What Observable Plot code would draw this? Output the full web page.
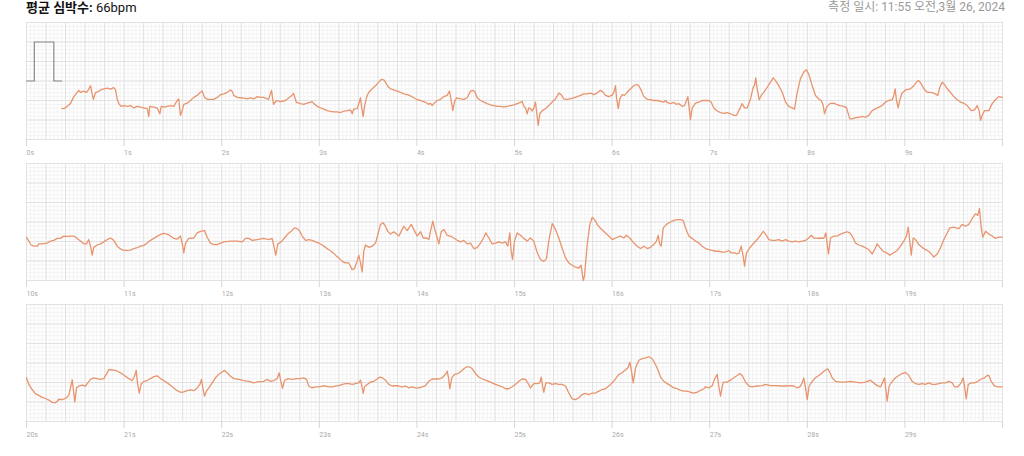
<!DOCTYPE html>
<html><head><meta charset="utf-8">
<script src="https://cdn.jsdelivr.net/npm/d3@7"></script>
<script src="https://cdn.jsdelivr.net/npm/@observablehq/plot@0.6"></script>
<style>
body{margin:0;background:#fff;font-family:Roboto,"Noto Sans CJK KR",sans-serif;}
#header{position:relative;height:21px;width:1024px;}
#title{position:absolute;left:26px;top:0px;font-size:13px;color:#111;line-height:16px;font-family:Roboto,"Noto Sans CJK KR",sans-serif}
#title b{font-weight:700}
#date{position:absolute;right:19px;top:0;font-size:12px;color:#9a9a9a;line-height:15px}
svg{display:block}
</style></head><body>
<div id="header"><div id="title"><b>평균 심박수:</b> 66bpm</div><div id="date">측정 일시: 11:55 오전,3월 26, 2024</div></div>
<div id="chart"></div>
<script>
// panel start times (s)
const panelStart = [0, 10, 20];
// calibration pulse (s, mV)
const calTime = [0, 0.08, 0.08, 0.28, 0.28, 0.36];
const calVolt = [0, 0, 1, 1, 0, 0];
// ECG samples [time s, mV]
const ecg1 = [[0.362,-0.70],[0.382,-0.71],[0.417,-0.65],[0.451,-0.58],[0.478,-0.43],[0.512,-0.31],[0.536,-0.24],[0.553,-0.29],[0.587,-0.26],[0.615,-0.29],[0.635,-0.22],[0.656,-0.12],[0.671,-0.32],[0.686,-0.47],[0.707,-0.29],[0.724,-0.29],[0.758,-0.23],[0.792,-0.20],[0.827,-0.18],[0.861,-0.21],[0.894,-0.17],[0.912,-0.23],[0.929,-0.46],[0.946,-0.58],[0.970,-0.65],[0.997,-0.63],[1.032,-0.65],[1.066,-0.63],[1.099,-0.69],[1.134,-0.65],[1.168,-0.67],[1.202,-0.69],[1.237,-0.71],[1.253,-0.91],[1.263,-0.65],[1.304,-0.67],[1.339,-0.69],[1.366,-0.84],[1.380,-0.65],[1.407,-0.67],[1.442,-0.65],[1.475,-0.63],[1.509,-0.65],[1.544,-0.50],[1.560,-0.46],[1.578,-0.88],[1.595,-0.76],[1.612,-0.60],[1.646,-0.57],[1.680,-0.50],[1.714,-0.42],[1.749,-0.37],[1.783,-0.29],[1.800,-0.26],[1.824,-0.42],[1.851,-0.47],[1.919,-0.47],[1.954,-0.42],[1.988,-0.35],[2.022,-0.33],[2.056,-0.29],[2.090,-0.23],[2.107,-0.26],[2.124,-0.37],[2.159,-0.42],[2.193,-0.43],[2.226,-0.44],[2.261,-0.46],[2.295,-0.43],[2.329,-0.46],[2.364,-0.40],[2.398,-0.42],[2.428,-0.42],[2.480,-0.47],[2.510,-0.24],[2.531,-0.60],[2.561,-0.50],[2.602,-0.53],[2.654,-0.50],[2.705,-0.40],[2.736,-0.32],[2.766,-0.55],[2.807,-0.58],[2.841,-0.60],[2.876,-0.57],[2.910,-0.54],[2.927,-0.53],[2.944,-0.58],[2.979,-0.65],[3.012,-0.69],[3.046,-0.72],[3.081,-0.76],[3.115,-0.78],[3.149,-0.79],[3.183,-0.79],[3.217,-0.81],[3.251,-0.77],[3.286,-0.76],[3.320,-0.74],[3.337,-0.84],[3.353,-0.72],[3.388,-0.71],[3.405,-0.58],[3.422,-0.43],[3.435,-0.69],[3.450,-0.91],[3.463,-0.65],[3.484,-0.42],[3.507,-0.29],[3.542,-0.20],[3.576,-0.12],[3.610,-0.03],[3.634,0.04],[3.661,0.03],[3.678,-0.03],[3.702,-0.14],[3.730,-0.20],[3.763,-0.23],[3.798,-0.26],[3.832,-0.29],[3.866,-0.33],[3.901,-0.35],[3.934,-0.38],[3.968,-0.43],[4.003,-0.48],[4.037,-0.50],[4.071,-0.53],[4.105,-0.57],[4.122,-0.60],[4.139,-0.57],[4.157,-0.63],[4.173,-0.58],[4.208,-0.50],[4.242,-0.47],[4.276,-0.40],[4.310,-0.37],[4.334,-0.26],[4.351,-0.50],[4.368,-0.76],[4.385,-0.54],[4.406,-0.43],[4.447,-0.46],[4.481,-0.47],[4.515,-0.43],[4.549,-0.26],[4.577,-0.24],[4.597,-0.29],[4.618,-0.43],[4.652,-0.50],[4.686,-0.54],[4.720,-0.58],[4.754,-0.61],[4.788,-0.63],[4.823,-0.65],[4.857,-0.65],[4.890,-0.67],[4.925,-0.65],[4.959,-0.63],[4.993,-0.61],[5.028,-0.58],[5.061,-0.55],[5.079,-0.52],[5.095,-0.65],[5.113,-0.69],[5.130,-0.84],[5.146,-0.69],[5.164,-0.71],[5.181,-0.77],[5.198,-0.69],[5.215,-0.54],[5.233,-0.93],[5.243,-1.14],[5.259,-0.84],[5.284,-0.76],[5.318,-0.71],[5.352,-0.63],[5.386,-0.54],[5.420,-0.46],[5.454,-0.31],[5.478,-0.35],[5.505,-0.46],[5.540,-0.47],[5.574,-0.45],[5.608,-0.43],[5.642,-0.40],[5.676,-0.37],[5.710,-0.33],[5.745,-0.33],[5.779,-0.31],[5.813,-0.35],[5.847,-0.31],[5.881,-0.24],[5.909,-0.29],[5.932,-0.37],[5.966,-0.40],[6.001,-0.36],[6.018,-0.29],[6.035,-0.12],[6.045,-0.42],[6.063,-0.71],[6.079,-0.46],[6.104,-0.35],[6.127,-0.37],[6.155,-0.29],[6.189,-0.20],[6.222,-0.12],[6.257,-0.09],[6.274,-0.12],[6.298,-0.24],[6.325,-0.40],[6.360,-0.47],[6.393,-0.48],[6.427,-0.50],[6.462,-0.50],[6.496,-0.52],[6.530,-0.54],[6.547,-0.50],[6.565,-0.55],[6.598,-0.58],[6.632,-0.55],[6.660,-0.60],[6.683,-0.58],[6.718,-0.65],[6.742,-0.63],[6.762,-0.50],[6.776,-0.40],[6.790,-0.71],[6.803,-0.99],[6.821,-0.69],[6.855,-0.57],[6.889,-0.54],[6.923,-0.50],[6.957,-0.50],[6.991,-0.50],[7.015,-0.54],[7.042,-0.69],[7.077,-0.77],[7.111,-0.81],[7.145,-0.83],[7.179,-0.81],[7.213,-0.84],[7.247,-0.88],[7.275,-0.88],[7.298,-0.76],[7.333,-0.58],[7.357,-0.69],[7.384,-0.69],[7.418,-0.46],[7.446,-0.16],[7.459,-0.12],[7.472,0.08],[7.487,-0.20],[7.507,-0.48],[7.528,-0.37],[7.554,-0.29],[7.589,-0.16],[7.623,-0.03],[7.651,0.08],[7.674,0.01],[7.708,-0.12],[7.743,-0.29],[7.777,-0.54],[7.810,-0.65],[7.845,-0.69],[7.869,-0.72],[7.897,-0.29],[7.930,0.06],[7.964,0.23],[7.992,0.29],[8.015,0.17],[8.050,-0.12],[8.084,-0.37],[8.118,-0.46],[8.142,-0.50],[8.163,-0.63],[8.176,-0.84],[8.197,-0.67],[8.231,-0.58],[8.266,-0.57],[8.299,-0.60],[8.333,-0.63],[8.374,-0.65],[8.402,-0.69],[8.436,-0.97],[8.460,-0.97],[8.494,-0.94],[8.528,-0.93],[8.563,-0.91],[8.596,-0.93],[8.630,-0.88],[8.665,-0.76],[8.716,-0.69],[8.767,-0.63],[8.801,-0.54],[8.835,-0.50],[8.870,-0.48],[8.886,-0.37],[8.900,-0.20],[8.914,-0.50],[8.931,-0.69],[8.948,-0.48],[8.972,-0.31],[9.006,-0.23],[9.057,-0.20],[9.091,-0.12],[9.126,-0.01],[9.142,0.01],[9.167,-0.07],[9.194,-0.20],[9.228,-0.29],[9.262,-0.29],[9.296,-0.31],[9.337,-0.37],[9.358,-0.16],[9.382,-0.03],[9.406,-0.09],[9.433,-0.20],[9.467,-0.29],[9.501,-0.40],[9.536,-0.48],[9.570,-0.54],[9.604,-0.57],[9.638,-0.63],[9.679,-0.76],[9.713,-0.74],[9.741,-0.63],[9.761,-0.76],[9.775,-1.01],[9.792,-0.88],[9.816,-0.76],[9.860,-0.76],[9.894,-0.58],[9.928,-0.48],[9.962,-0.40],[9.997,-0.42]];
const ecg2 = [[10.000,-0.39],[10.024,-0.49],[10.048,-0.59],[10.075,-0.62],[10.110,-0.62],[10.126,-0.56],[10.161,-0.56],[10.212,-0.54],[10.246,-0.49],[10.280,-0.47],[10.315,-0.42],[10.348,-0.42],[10.382,-0.36],[10.417,-0.37],[10.451,-0.36],[10.485,-0.36],[10.519,-0.42],[10.553,-0.49],[10.587,-0.56],[10.615,-0.56],[10.638,-0.45],[10.656,-0.62],[10.673,-0.85],[10.690,-0.65],[10.724,-0.59],[10.758,-0.56],[10.792,-0.51],[10.827,-0.45],[10.861,-0.41],[10.894,-0.47],[10.929,-0.62],[10.963,-0.69],[10.997,-0.73],[11.032,-0.73],[11.066,-0.72],[11.099,-0.68],[11.134,-0.66],[11.168,-0.62],[11.202,-0.60],[11.237,-0.54],[11.270,-0.47],[11.304,-0.42],[11.339,-0.37],[11.373,-0.32],[11.407,-0.29],[11.442,-0.31],[11.475,-0.36],[11.509,-0.42],[11.544,-0.44],[11.578,-0.36],[11.595,-0.54],[11.612,-0.79],[11.629,-0.54],[11.663,-0.42],[11.714,-0.41],[11.749,-0.28],[11.783,-0.24],[11.824,-0.22],[11.851,-0.39],[11.885,-0.54],[11.919,-0.58],[11.954,-0.58],[11.988,-0.54],[12.022,-0.51],[12.090,-0.49],[12.159,-0.49],[12.210,-0.51],[12.244,-0.42],[12.278,-0.42],[12.313,-0.47],[12.364,-0.45],[12.431,-0.42],[12.483,-0.45],[12.517,-0.42],[12.534,-0.62],[12.554,-0.85],[12.575,-0.56],[12.610,-0.51],[12.643,-0.41],[12.677,-0.31],[12.712,-0.24],[12.746,-0.15],[12.774,-0.17],[12.800,-0.24],[12.825,-0.36],[12.859,-0.47],[12.892,-0.45],[12.927,-0.47],[12.961,-0.51],[12.995,-0.54],[13.030,-0.59],[13.063,-0.65],[13.097,-0.71],[13.132,-0.77],[13.166,-0.85],[13.200,-0.92],[13.235,-1.01],[13.268,-1.05],[13.302,-1.05],[13.337,-1.22],[13.361,-1.19],[13.381,-1.05],[13.405,-0.85],[13.422,-1.05],[13.439,-1.28],[13.456,-0.75],[13.473,-0.59],[13.507,-0.65],[13.542,-0.62],[13.576,-0.54],[13.600,-0.32],[13.627,-0.06],[13.655,-0.02],[13.678,-0.11],[13.702,-0.24],[13.730,-0.31],[13.763,-0.25],[13.791,-0.31],[13.815,-0.36],[13.839,-0.24],[13.866,-0.11],[13.901,-0.22],[13.942,-0.06],[13.968,-0.19],[14.003,-0.36],[14.037,-0.25],[14.065,-0.41],[14.098,-0.41],[14.122,-0.45],[14.139,-0.24],[14.163,0.02],[14.183,-0.19],[14.208,-0.41],[14.225,-0.56],[14.249,-0.25],[14.276,-0.19],[14.310,-0.34],[14.344,-0.36],[14.378,-0.41],[14.413,-0.47],[14.447,-0.51],[14.481,-0.47],[14.515,-0.56],[14.549,-0.54],[14.583,-0.68],[14.618,-0.66],[14.652,-0.54],[14.686,-0.39],[14.706,-0.28],[14.737,-0.41],[14.771,-0.56],[14.805,-0.54],[14.839,-0.51],[14.874,-0.54],[14.908,-0.51],[14.931,-0.62],[14.952,-0.28],[14.966,-0.75],[14.980,-0.96],[15.000,-0.49],[15.028,-0.28],[15.061,-0.34],[15.095,-0.42],[15.130,-0.49],[15.164,-0.41],[15.198,-0.49],[15.233,-0.79],[15.266,-0.96],[15.300,-1.01],[15.328,-0.94],[15.351,-0.49],[15.386,-0.04],[15.420,-0.19],[15.454,-0.41],[15.489,-0.68],[15.523,-0.92],[15.556,-1.05],[15.591,-1.11],[15.625,-1.16],[15.659,-1.18],[15.683,-1.11],[15.704,-1.50],[15.717,-1.39],[15.745,-0.58],[15.772,-0.06],[15.796,0.12],[15.820,0.06],[15.847,-0.06],[15.881,-0.16],[15.932,-0.28],[15.966,-0.36],[16.001,-0.45],[16.035,-0.41],[16.086,-0.36],[16.120,-0.41],[16.148,-0.34],[16.181,-0.41],[16.222,-0.54],[16.257,-0.62],[16.291,-0.68],[16.325,-0.62],[16.360,-0.68],[16.393,-0.65],[16.427,-0.58],[16.455,-0.49],[16.472,-0.34],[16.489,-0.58],[16.503,-0.62],[16.524,-0.15],[16.557,-0.06],[16.598,0.00],[16.632,0.04],[16.667,0.06],[16.701,0.06],[16.728,0.04],[16.752,-0.15],[16.786,-0.36],[16.821,-0.42],[16.855,-0.49],[16.889,-0.54],[16.923,-0.62],[16.957,-0.68],[16.991,-0.71],[17.026,-0.73],[17.059,-0.75],[17.093,-0.75],[17.128,-0.77],[17.162,-0.77],[17.196,-0.73],[17.220,-0.79],[17.254,-0.79],[17.282,-0.82],[17.302,-0.79],[17.323,-0.62],[17.343,-0.88],[17.357,-1.13],[17.377,-0.79],[17.411,-0.66],[17.452,-0.54],[17.487,-0.45],[17.520,-0.34],[17.548,-0.24],[17.572,-0.31],[17.606,-0.45],[17.641,-0.47],[17.674,-0.47],[17.708,-0.45],[17.743,-0.49],[17.777,-0.45],[17.810,-0.49],[17.845,-0.51],[17.879,-0.49],[17.913,-0.51],[17.948,-0.49],[17.982,-0.47],[18.015,-0.41],[18.040,-0.34],[18.067,-0.41],[18.101,-0.42],[18.135,-0.41],[18.169,-0.42],[18.190,-0.28],[18.204,-0.58],[18.217,-0.82],[18.238,-0.41],[18.272,-0.36],[18.306,-0.36],[18.340,-0.31],[18.374,-0.28],[18.409,-0.25],[18.436,-0.28],[18.460,-0.36],[18.494,-0.54],[18.528,-0.59],[18.563,-0.62],[18.596,-0.66],[18.630,-0.71],[18.665,-0.82],[18.689,-0.71],[18.716,-0.56],[18.743,-0.65],[18.777,-0.75],[18.811,-0.79],[18.845,-0.85],[18.886,-0.79],[18.921,-0.73],[18.955,-0.62],[18.989,-0.49],[19.016,-0.36],[19.034,-0.13],[19.047,-0.41],[19.065,-0.85],[19.085,-0.41],[19.109,-0.45],[19.143,-0.58],[19.177,-0.65],[19.211,-0.71],[19.245,-0.75],[19.280,-0.85],[19.296,-0.90],[19.331,-0.82],[19.365,-0.66],[19.399,-0.45],[19.433,-0.28],[19.460,-0.15],[19.501,-0.13],[19.553,-0.17],[19.587,-0.06],[19.621,-0.11],[19.655,-0.06],[19.690,0.09],[19.723,0.21],[19.747,0.17],[19.764,0.35],[19.782,-0.15],[19.798,-0.39],[19.826,-0.24],[19.860,-0.31],[19.894,-0.36],[19.928,-0.42],[19.962,-0.39],[19.997,-0.39]];
const ecg3 = [[20.000,-0.38],[20.024,-0.55],[20.058,-0.68],[20.092,-0.79],[20.126,-0.83],[20.161,-0.88],[20.195,-0.91],[20.228,-0.95],[20.263,-1.01],[20.297,-1.02],[20.315,-0.98],[20.331,-0.93],[20.366,-0.94],[20.400,-0.91],[20.433,-0.83],[20.451,-0.64],[20.468,-0.43],[20.482,-0.72],[20.495,-1.00],[20.512,-0.64],[20.536,-0.59],[20.571,-0.57],[20.605,-0.59],[20.628,-0.51],[20.656,-0.42],[20.690,-0.38],[20.724,-0.40],[20.758,-0.42],[20.792,-0.40],[20.820,-0.28],[20.843,-0.17],[20.878,-0.18],[20.912,-0.19],[20.946,-0.23],[20.981,-0.28],[21.014,-0.34],[21.048,-0.40],[21.083,-0.45],[21.107,-0.34],[21.124,-0.19],[21.137,-0.51],[21.155,-0.77],[21.175,-0.54],[21.202,-0.47],[21.237,-0.45],[21.270,-0.40],[21.304,-0.35],[21.339,-0.33],[21.373,-0.40],[21.407,-0.45],[21.442,-0.51],[21.475,-0.57],[21.509,-0.64],[21.544,-0.71],[21.578,-0.75],[21.612,-0.74],[21.646,-0.71],[21.680,-0.69],[21.714,-0.71],[21.749,-0.64],[21.776,-0.55],[21.793,-0.42],[21.810,-0.68],[21.824,-0.85],[21.844,-0.72],[21.868,-0.64],[21.903,-0.51],[21.936,-0.38],[21.970,-0.29],[22.005,-0.23],[22.029,-0.19],[22.056,-0.25],[22.090,-0.34],[22.124,-0.40],[22.175,-0.42],[22.226,-0.45],[22.278,-0.47],[22.329,-0.51],[22.380,-0.48],[22.431,-0.47],[22.466,-0.42],[22.500,-0.47],[22.534,-0.45],[22.569,-0.40],[22.589,-0.25],[22.606,-0.47],[22.623,-0.65],[22.643,-0.45],[22.677,-0.40],[22.722,-0.42],[22.774,-0.40],[22.807,-0.40],[22.841,-0.38],[22.869,-0.42],[22.892,-0.59],[22.927,-0.64],[22.961,-0.61],[22.995,-0.61],[23.030,-0.59],[23.063,-0.59],[23.097,-0.61],[23.132,-0.61],[23.166,-0.59],[23.200,-0.58],[23.235,-0.55],[23.268,-0.53],[23.302,-0.53],[23.337,-0.55],[23.371,-0.53],[23.405,-0.51],[23.422,-0.44],[23.435,-0.58],[23.450,-0.78],[23.463,-0.61],[23.491,-0.55],[23.525,-0.49],[23.558,-0.47],[23.593,-0.41],[23.620,-0.36],[23.645,-0.38],[23.678,-0.44],[23.712,-0.55],[23.747,-0.59],[23.781,-0.58],[23.815,-0.59],[23.849,-0.61],[23.883,-0.59],[23.917,-0.64],[23.952,-0.61],[23.986,-0.64],[24.020,-0.64],[24.054,-0.61],[24.088,-0.58],[24.122,-0.47],[24.157,-0.41],[24.191,-0.41],[24.224,-0.41],[24.259,-0.38],[24.293,-0.29],[24.310,-0.21],[24.324,-0.38],[24.337,-0.66],[24.358,-0.38],[24.385,-0.29],[24.419,-0.27],[24.454,-0.21],[24.481,-0.15],[24.508,-0.10],[24.542,-0.10],[24.567,-0.15],[24.600,-0.27],[24.635,-0.36],[24.669,-0.41],[24.703,-0.44],[24.737,-0.47],[24.771,-0.51],[24.805,-0.55],[24.839,-0.58],[24.874,-0.61],[24.908,-0.66],[24.942,-0.66],[24.976,-0.61],[25.010,-0.55],[25.044,-0.47],[25.079,-0.41],[25.113,-0.42],[25.136,-0.51],[25.164,-0.64],[25.198,-0.53],[25.233,-0.53],[25.259,-0.51],[25.274,-0.36],[25.287,-0.58],[25.300,-0.75],[25.321,-0.51],[25.352,-0.51],[25.386,-0.55],[25.420,-0.53],[25.454,-0.55],[25.489,-0.55],[25.523,-0.59],[25.556,-0.77],[25.591,-0.92],[25.625,-0.94],[25.659,-0.89],[25.693,-0.81],[25.727,-0.78],[25.761,-0.81],[25.796,-0.77],[25.830,-0.77],[25.864,-0.72],[25.898,-0.68],[25.932,-0.66],[25.966,-0.59],[26.001,-0.51],[26.035,-0.41],[26.069,-0.29],[26.104,-0.25],[26.138,-0.17],[26.161,-0.13],[26.182,0.02],[26.199,-0.21],[26.216,-0.51],[26.240,-0.13],[26.274,0.07],[26.309,0.11],[26.342,0.13],[26.376,0.16],[26.411,0.11],[26.445,-0.04],[26.479,-0.24],[26.496,-0.36],[26.530,-0.47],[26.565,-0.53],[26.598,-0.58],[26.632,-0.64],[26.667,-0.66],[26.701,-0.70],[26.735,-0.72],[26.769,-0.72],[26.803,-0.75],[26.837,-0.77],[26.872,-0.75],[26.906,-0.70],[26.940,-0.66],[26.957,-0.61],[26.991,-0.64],[27.026,-0.58],[27.049,-0.42],[27.077,-0.29],[27.093,-0.59],[27.111,-0.85],[27.138,-0.49],[27.179,-0.49],[27.213,-0.44],[27.247,-0.38],[27.282,-0.32],[27.309,-0.27],[27.333,-0.32],[27.367,-0.49],[27.401,-0.59],[27.436,-0.61],[27.487,-0.59],[27.538,-0.58],[27.572,-0.55],[27.623,-0.58],[27.674,-0.58],[27.725,-0.59],[27.777,-0.59],[27.828,-0.58],[27.862,-0.59],[27.897,-0.64],[27.923,-0.61],[27.948,-0.51],[27.964,-0.38],[27.982,-0.64],[27.999,-0.94],[28.019,-0.59],[28.050,-0.47],[28.084,-0.38],[28.118,-0.32],[28.153,-0.25],[28.186,-0.18],[28.210,-0.15],[28.231,-0.24],[28.255,-0.38],[28.289,-0.47],[28.340,-0.49],[28.391,-0.49],[28.443,-0.47],[28.494,-0.49],[28.545,-0.51],[28.596,-0.49],[28.648,-0.44],[28.681,-0.51],[28.716,-0.58],[28.750,-0.61],[28.774,-0.49],[28.791,-0.38],[28.805,-0.68],[28.818,-0.98],[28.839,-0.59],[28.870,-0.47],[28.904,-0.38],[28.938,-0.32],[28.972,-0.27],[29.006,-0.24],[29.040,-0.32],[29.075,-0.47],[29.109,-0.53],[29.143,-0.55],[29.177,-0.53],[29.211,-0.55],[29.245,-0.51],[29.280,-0.55],[29.314,-0.55],[29.348,-0.53],[29.382,-0.51],[29.416,-0.51],[29.450,-0.47],[29.485,-0.51],[29.508,-0.61],[29.542,-0.61],[29.577,-0.51],[29.597,-0.38],[29.614,-0.64],[29.628,-0.92],[29.649,-0.55],[29.679,-0.51],[29.713,-0.51],[29.747,-0.47],[29.782,-0.41],[29.816,-0.38],[29.843,-0.32],[29.860,-0.32],[29.884,-0.47],[29.915,-0.58],[29.949,-0.61],[29.997,-0.61]];
const ecgPanels = [ecg1, ecg2, ecg3];

function panel(i) {
  const t0 = panelStart[i];
  const data = ecgPanels[i].map(([t, v]) => ({t, v}));
  const minorX = d3.range(0, 251).map(k => t0 + k * 0.04);
  const majorX = d3.range(0, 51).map(k => t0 + k * 0.2);
  const minorY = d3.range(-15, 16).map(k => k / 10);
  const majorY = d3.range(-3, 4).map(k => k / 2);
  const ticks = d3.range(t0, t0 + 11);
  const marks = [
    Plot.ruleX(minorX, {stroke: "#f3f3f3", strokeWidth: 1}),
    Plot.ruleY(minorY, {stroke: "#f3f3f3", strokeWidth: 1}),
    Plot.ruleX(majorX, {stroke: "#e2e2e2", strokeWidth: 1}),
    Plot.ruleY(majorY, {stroke: "#e2e2e2", strokeWidth: 1}),
    Plot.axisX({ticks, label: null, tickSize: 7, tickPadding: 4, tickFormat: d => d === t0 + 10 ? "" : `${d}s`,
      textAnchor: "start", fontSize: 7, stroke: "#d6d6d6", fill: "#aaaaaa"})
  ];
  if (i === 0) {
    const cal = calTime.map((t, k) => ({t, v: calVolt[k]}));
    marks.push(Plot.line(cal, {x: "t", y: "v", stroke: "#8a8a8a", strokeWidth: 1.2, curve: "linear"}));
  }
  marks.push(Plot.line(data, {x: "t", y: "v", stroke: "#e8946e", strokeWidth: 1.3, curve: "linear"}));
  return Plot.plot({
    width: 1024, height: 141,
    marginTop: 1, marginBottom: 23, marginLeft: 26, marginRight: 22,
    x: {domain: [t0, t0 + 10], axis: null, label: null},
    y: {domain: [-1.5, 1.5], axis: null},
    style: {background: "#fff", fontFamily: "Roboto, sans-serif"},
    marks
  });
}
const chart = document.getElementById("chart");
panelStart.forEach((_, i) => chart.appendChild(panel(i)));
</script>
</body></html>
